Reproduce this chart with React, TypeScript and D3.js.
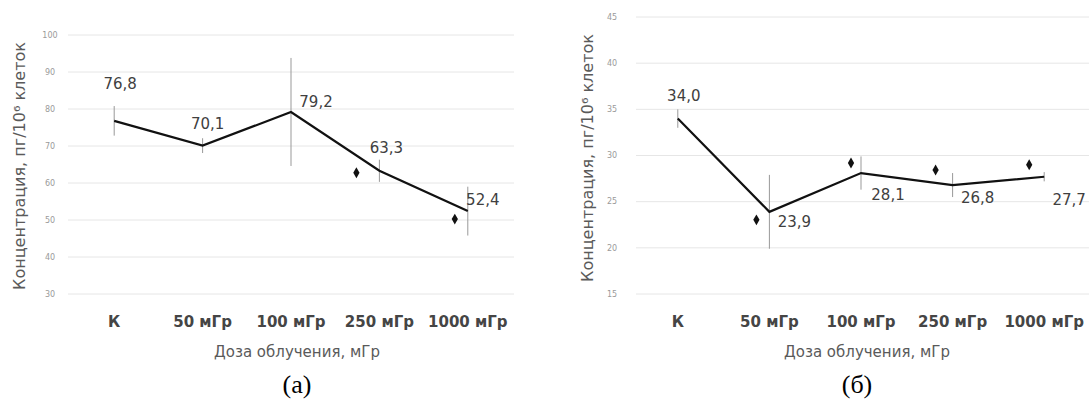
import React from 'react';
import * as d3 from 'd3';

// categories and values
const categories = ['К', '50 мГр', '100 мГр', '250 мГр', '1000 мГр'];

const valuesA = [76.8, 70.1, 79.2, 63.3, 52.4];
const errorsA = [4, 2, 14.6, 3, 6.6];
const markedA = [false, false, false, true, true];
const ticksA = [30, 40, 50, 60, 70, 80, 90, 100];

const valuesB = [34.0, 23.9, 28.1, 26.8, 27.7];
const errorsB = [1, 4, 1.8, 1.3, 0.5];
const markedB = [false, true, true, true, true];
const ticksB = [15, 20, 25, 30, 35, 40, 45];

const yTitle = 'Концентрация, пг/10⁶ клеток';
const xTitle = 'Доза облучения, мГр';

// label / marker offsets relative to each point (layout only)
const labelOffA = [[6, -37], [5, -22], [25, -10], [7, -23], [15, -11]];
const markOffA = [[0, 0], [0, 0], [0, 0], [-23, 2], [-13, 8]];
const labelOffB = [[6, -23], [25, 10], [27, 22], [25, 13], [25, 23]];
const markOffB = [[0, 0], [-13, 8], [-10, -10], [-17, -15], [-15, -12]];

const font = 'DejaVu Sans, Verdana, sans-serif';
const fmt = (v: number) => v.toFixed(1).replace('.', ',');

type PanelProps = {
  values: number[];
  errors: number[];
  marked: boolean[];
  ticks: number[];
  domain: [number, number];
  yRange: [number, number];
  xRange: [number, number];
  gridX: [number, number];
  tickX: number;
  titleX: number;
  titleY: number;
  labelOff: number[][];
  markOff: number[][];
  caption: string;
  captionX: number;
};

function Panel(p: PanelProps) {
  const x = d3.scalePoint<string>().domain(categories).range(p.xRange).padding(0.5);
  const y = d3.scaleLinear().domain(p.domain).range(p.yRange);
  const line = d3.line<number>()
    .x((_, i) => x(categories[i])!)
    .y((d) => y(d));
  const diamond = d3.symbol().type(d3.symbolDiamond).size(34)()!;
  const midX = (x(categories[0])! + x(categories[categories.length - 1])!) / 2;

  return (
    <g>
      {p.ticks.map((t) => (
        <g key={t}>
          <line x1={p.gridX[0]} x2={p.gridX[1]} y1={y(t)} y2={y(t)} stroke="#e6e6e6" strokeWidth={1} />
          <text x={p.tickX} y={y(t)} dy="0.35em" textAnchor="middle" fontSize={8} fill="#9a9a9a" fontFamily={font}>
            {t}
          </text>
        </g>
      ))}
      {p.values.map((v, i) => (
        <line
          key={'e' + i}
          x1={x(categories[i])}
          x2={x(categories[i])}
          y1={y(v - p.errors[i])}
          y2={y(v + p.errors[i])}
          stroke="#999"
          strokeWidth={1}
        />
      ))}
      <path d={line(p.values)!} fill="none" stroke="#111" strokeWidth={2.2} strokeLinejoin="miter" />
      {p.values.map((v, i) => (
        <text
          key={'l' + i}
          x={x(categories[i])! + p.labelOff[i][0]}
          y={y(v) + p.labelOff[i][1]}
          dy="0.35em"
          textAnchor="middle"
          fontSize={15}
          fill="#404040"
          fontFamily={font}
        >
          {fmt(v)}
        </text>
      ))}
      {p.values.map((v, i) =>
        p.marked[i] ? (
          <path
            key={'m' + i}
            d={diamond}
            transform={`translate(${x(categories[i])! + p.markOff[i][0]},${y(v) + p.markOff[i][1]})`}
            fill="#111"
          />
        ) : null
      )}
      {categories.map((c) => (
        <text
          key={c}
          x={x(c)}
          y={322}
          dy="0.35em"
          textAnchor="middle"
          fontSize={15}
          fontWeight="bold"
          fill="#454545"
          fontFamily={font}
        >
          {c}
        </text>
      ))}
      <text x={midX + 6} y={352} dy="0.35em" textAnchor="middle" fontSize={15} fill="#5a5a5a" fontFamily={font}>
        {xTitle}
      </text>
      <text
        transform={`translate(${p.titleX},${p.titleY}) rotate(-90)`}
        dy="0.35em"
        textAnchor="middle"
        fontSize={16}
        fill="#5a5a5a"
        fontFamily={font}
      >
        {yTitle}
      </text>
      <text x={p.captionX} y={393} textAnchor="middle" fontSize={26} fill="#000" fontFamily="Liberation Serif, Times New Roman, serif">
        {p.caption}
      </text>
    </g>
  );
}

export default function App() {
  return (
    <svg width={1089} height={401} style={{ position: 'absolute', left: 0, top: 0, background: '#fff' }}>
      <rect width={1089} height={401} fill="#fff" />
      <Panel
        values={valuesA}
        errors={errorsA}
        marked={markedA}
        ticks={ticksA}
        domain={[30, 100]}
        yRange={[294, 35]}
        xRange={[70, 512]}
        gridX={[68, 514]}
        tickX={50}
        titleX={19}
        titleY={166}
        labelOff={labelOffA}
        markOff={markOffA}
        caption="(а)"
        captionX={297}
      />
      <Panel
        values={valuesB}
        errors={errorsB}
        marked={markedB}
        ticks={ticksB}
        domain={[15, 45]}
        yRange={[294, 17]}
        xRange={[632, 1090]}
        gridX={[636, 1089]}
        tickX={612}
        titleX={587}
        titleY={158}
        labelOff={labelOffB}
        markOff={markOffB}
        caption="(б)"
        captionX={857}
      />
    </svg>
  );
}
